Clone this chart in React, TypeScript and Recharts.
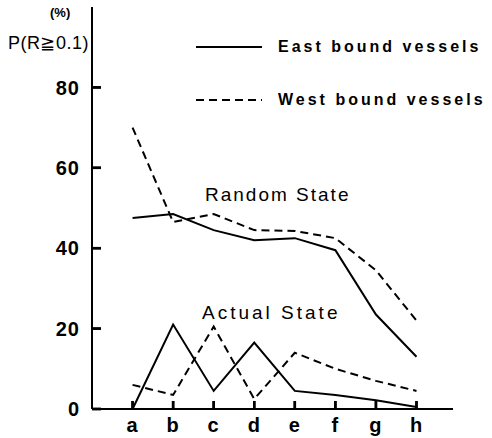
import { LineChart, Line, XAxis, YAxis, ReferenceLine } from 'recharts';

const categories = ['a', 'b', 'c', 'd', 'e', 'f', 'g', 'h'];
const eastRandom = [47.5, 48.5, 44.5, 42, 42.5, 39.5, 23.5, 13];
const westRandom = [70, 46.5, 48.5, 44.5, 44.3, 42.5, 34.5, 22];
const eastActual = [0, 21, 4.5, 16.5, 4.5, 3.5, 2.2, 0.5];
const westActual = [6, 3.5, 20.5, 2.5, 14, 10, 7, 4.5];
const xTicks = [1, 2, 3, 4, 5, 6, 7, 8];
const yTicks = [0, 20, 40, 60, 80];
const seriesLabels = ['East bound vessels', 'West bound vessels'];

const data = categories.map((c, i) => ({
  pos: i + 1,
  name: c,
  eastRandom: eastRandom[i],
  westRandom: westRandom[i],
  eastActual: eastActual[i],
  westActual: westActual[i],
}));

const FONT = '"Liberation Sans", Arial, sans-serif';
const DASH = '8 5';
const tickStyle = { fill: '#000', fontSize: 20, fontWeight: 700, fontFamily: FONT, letterSpacing: 1 };

function LegendBox() {
  return (
    <div style={{ position: 'absolute', left: 196, top: 20, fontFamily: FONT, fontSize: 16, fontWeight: 700, letterSpacing: 3 }}>
      {seriesLabels.map((label, i) => (
        <div key={label} style={{ display: 'flex', alignItems: 'center', height: 53 }}>
          <svg width={66} height={10} style={{ marginRight: 16 }}>
            <line x1={0} x2={66} y1={5} y2={5} stroke="#000" strokeWidth={2} strokeDasharray={i === 1 ? DASH : undefined} />
          </svg>
          <span>{label}</span>
        </div>
      ))}
    </div>
  );
}

const annot = (text: string, left: number, top: number, spacing: number) => (
  <div
    style={{
      position: 'absolute',
      left,
      top,
      fontFamily: FONT,
      fontSize: 19,
      letterSpacing: spacing,
      whiteSpace: 'nowrap',
    }}
  >
    {text}
  </div>
);

export default function App() {
  return (
    <div style={{ position: 'absolute', left: 0, top: 0, width: 492, height: 438, background: '#fff' }}>
      <LineChart width={492} height={438} data={data} margin={{ top: 7, right: 39, bottom: 0, left: 0 }}>
        <XAxis
          dataKey="pos"
          type="number"
          domain={[0, 8.9]}
          ticks={xTicks}
          tickFormatter={(v: number) => categories[v - 1]}
          tickSize={-8}
          tickMargin={17}
          tick={tickStyle}
          tickLine={{ stroke: '#000', strokeWidth: 2.5 }}
          axisLine={{ stroke: '#000', strokeWidth: 2 }}
          height={29}
        />
        <YAxis
          type="number"
          domain={[0, 100]}
          ticks={yTicks}
          width={92}
          tickSize={-9}
          tickMargin={21}
          tick={tickStyle}
          tickLine={{ stroke: '#000', strokeWidth: 2.5 }}
          axisLine={{ stroke: '#000', strokeWidth: 2 }}
        />
        {xTicks.map((t) => (
          <ReferenceLine key={`xt${t}`} segment={[{ x: t, y: 0 }, { x: t, y: 2 }]} stroke="#000" strokeWidth={2.5} ifOverflow="visible" />
        ))}
        {yTicks.map((t) => (
          <ReferenceLine key={`yt${t}`} segment={[{ x: 0, y: t }, { x: 0.22, y: t }]} stroke="#000" strokeWidth={2.5} ifOverflow="visible" />
        ))}
        <Line dataKey="eastRandom" stroke="#000" strokeWidth={2} dot={false} isAnimationActive={false} />
        <Line dataKey="westRandom" stroke="#000" strokeWidth={2} strokeDasharray={DASH} dot={false} isAnimationActive={false} />
        <Line dataKey="eastActual" stroke="#000" strokeWidth={2} dot={false} isAnimationActive={false} />
        <Line dataKey="westActual" stroke="#000" strokeWidth={2} strokeDasharray={DASH} dot={false} isAnimationActive={false} />
      </LineChart>
      <LegendBox />
      <div style={{ position: 'absolute', left: 50, top: 5, fontFamily: FONT, fontSize: 13, fontWeight: 700 }}>(%)</div>
      <div style={{ position: 'absolute', left: 8, top: 32, fontFamily: FONT, fontSize: 18, letterSpacing: 0.5 }}>P(R≧0.1)</div>
      {annot('Random State', 205, 184, 2)}
      {annot('Actual State', 202, 302, 3)}
    </div>
  );
}
